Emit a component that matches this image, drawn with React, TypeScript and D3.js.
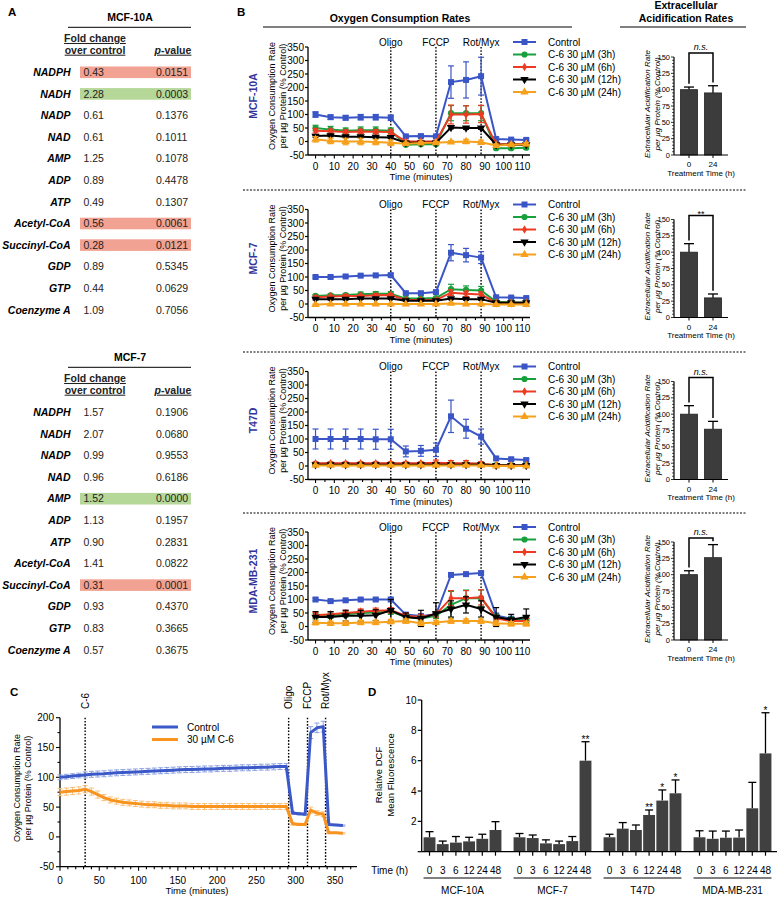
import React, { useLayoutEffect } from "react";
import * as d3 from "d3";

const FONT = "'Liberation Sans', Arial, Helvetica, sans-serif";

// ---------------- Panel A data ----------------
const metabolites = ["NADPH", "NADH", "NADP", "NAD", "AMP", "ADP", "ATP", "Acetyl-CoA", "Succinyl-CoA", "GDP", "GTP", "Coenzyme A"];
const foldMCF10A = ["0.43", "2.28", "0.61", "0.61", "1.25", "0.89", "0.49", "0.56", "0.28", "0.89", "0.44", "1.09"];
const pMCF10A = ["0.0151", "0.0003", "0.1376", "0.1011", "0.1078", "0.4478", "0.1307", "0.0061", "0.0121", "0.5345", "0.0629", "0.7056"];
const highlightMCF10A = ["down", "up", "", "", "", "", "", "down", "down", "", "", ""];
const foldMCF7 = ["1.57", "2.07", "0.99", "0.96", "1.52", "1.13", "0.90", "1.41", "0.31", "0.93", "0.83", "0.57"];
const pMCF7 = ["0.1906", "0.0680", "0.9553", "0.6186", "0.0000", "0.1957", "0.2831", "0.0822", "0.0001", "0.4370", "0.3665", "0.3675"];
const highlightMCF7 = ["", "", "", "", "up", "", "", "", "down", "", "", ""];

// ---------------- Panel B data ----------------
const cellLines = ["MCF-10A", "MCF-7", "T47D", "MDA-MB-231"];
const treatmentNames = ["Control", "C-6 30 µM (3h)", "C-6 30 µM (6h)", "C-6 30 µM (12h)", "C-6 30 µM (24h)"];
const ocrTimes = [0, 8, 16, 24, 32, 40, 48, 56, 64, 72, 80, 88, 96, 104, 112];
const drugNamesB = ["Oligo", "FCCP", "Rot/Myx"];
const drugTimesB = [40, 64, 88];
const ocrYTicks = [-50, 0, 50, 100, 150, 200, 250, 300, 350];
const ocrXTicks = [0, 10, 20, 30, 40, 50, 60, 70, 80, 90, 100, 110];

const ocrMCF10A = [
  [100, 90, 88, 90, 90, 88, 19, 20, 19, 220, 228, 242, 9, 7, 6],
  [50, 44, 40, 42, 42, 40, -12, -10, -10, 105, 105, 105, -25, -25, -23],
  [40, 38, 35, 37, 36, 35, 0, 0, 0, 100, 100, 102, -10, -10, -8],
  [20, 22, 18, 18, 16, 15, -5, -5, -5, 52, 50, 50, -12, -12, -12],
  [8, 2, 0, 0, -2, -5, -8, -6, -5, -2, 0, -3, -15, -12, -10],
];
const ocrErrMCF10A = [
  [10, 8, 8, 10, 10, 10, 6, 5, 5, 60, 67, 70, 4, 4, 4],
  [10, 12, 10, 12, 12, 10, 5, 5, 5, 28, 28, 28, 5, 5, 5],
  [8, 8, 8, 8, 8, 8, 4, 4, 4, 35, 32, 32, 4, 4, 4],
  [4, 4, 4, 4, 4, 4, 3, 3, 3, 5, 5, 5, 3, 3, 3],
  [10, 10, 12, 12, 10, 10, 5, 5, 5, 5, 8, 8, 6, 6, 6],
];
const ocrMCF7 = [
  [100, 100, 102, 105, 106, 107, 40, 40, 44, 190, 181, 172, 25, 24, 22],
  [30, 32, 33, 36, 38, 38, 20, 20, 22, 55, 52, 50, 8, 6, 6],
  [25, 28, 30, 30, 32, 33, 15, 15, 15, 42, 38, 35, 5, 5, 5],
  [18, 18, 18, 20, 20, 20, 12, 12, 12, 20, 18, 18, 5, 5, 5],
  [-2, 0, 0, 0, 0, 0, 0, 0, 0, 2, 0, 0, -2, -2, -2],
];
const ocrErrMCF7 = [
  [4, 4, 4, 4, 4, 5, 4, 4, 4, 30, 25, 22, 3, 3, 3],
  [5, 5, 6, 8, 8, 8, 4, 4, 4, 18, 15, 15, 3, 3, 3],
  [5, 5, 5, 6, 6, 6, 3, 3, 3, 10, 10, 10, 2, 2, 2],
  [3, 3, 3, 3, 3, 3, 2, 2, 2, 4, 4, 4, 2, 2, 2],
  [2, 2, 2, 2, 2, 2, 2, 2, 2, 2, 2, 2, 2, 2, 2],
];
const ocrT47D = [
  [100, 100, 100, 100, 99, 99, 54, 56, 60, 184, 138, 109, 28, 25, 22],
  [8, 8, 8, 8, 8, 8, 8, 8, 8, 8, 8, 8, 3, 3, 3],
  [10, 10, 10, 10, 10, 10, 10, 10, 12, 10, 10, 8, 3, 3, 3],
  [5, 5, 5, 5, 5, 5, 5, 5, 5, 5, 5, 5, 2, 2, 2],
  [2, 2, 2, 2, 2, 2, 2, 2, 2, 2, 2, 2, 0, 0, 0],
];
const ocrErrT47D = [
  [37, 37, 37, 37, 37, 37, 20, 20, 25, 60, 35, 28, 5, 5, 5],
  [3, 3, 3, 3, 3, 3, 3, 3, 3, 3, 3, 3, 2, 2, 2],
  [5, 5, 5, 5, 5, 5, 5, 5, 10, 10, 10, 8, 3, 3, 3],
  [2, 2, 2, 2, 2, 2, 2, 2, 2, 2, 2, 2, 1, 1, 1],
  [3, 3, 3, 3, 3, 3, 3, 3, 3, 3, 3, 3, 2, 2, 2],
];
const ocrMDA = [
  [100, 94, 97, 100, 100, 100, 44, 39, 44, 191, 194, 198, 41, 29, 25],
  [38, 40, 45, 50, 52, 55, 35, 30, 40, 80, 105, 105, 35, 25, 22],
  [42, 45, 50, 55, 58, 60, 40, 35, 45, 105, 105, 108, 30, 20, 20],
  [35, 35, 40, 40, 42, 60, 35, 30, 48, 65, 80, 65, 35, 25, 35],
  [14, 12, 12, 15, 15, 18, 20, 12, 15, 20, 20, 20, 12, 10, 10],
];
const ocrErrMDA = [
  [5, 5, 5, 5, 5, 5, 5, 5, 5, 5, 5, 5, 5, 5, 5],
  [10, 10, 10, 10, 10, 10, 10, 10, 10, 50, 30, 30, 10, 10, 10],
  [10, 10, 10, 10, 10, 10, 10, 10, 10, 28, 28, 28, 10, 10, 10],
  [20, 20, 20, 20, 20, 40, 15, 30, 40, 30, 30, 30, 35, 20, 30],
  [8, 8, 8, 8, 8, 8, 8, 8, 8, 8, 8, 8, 8, 8, 8],
];
const ocrByCell = [ocrMCF10A, ocrMCF7, ocrT47D, ocrMDA];
const ocrErrByCell = [ocrErrMCF10A, ocrErrMCF7, ocrErrT47D, ocrErrMDA];

const ecarTimes = ["0", "24"];
const ecarYTicks = [0, 25, 50, 75, 100, 125, 150];
const ecarMean = [[100, 95], [100, 30], [100, 77], [100, 126]];
const ecarErr = [[4, 11], [13, 6], [13, 12], [6, 20]];
const ecarSig = ["n.s.", "**", "n.s.", "n.s."];

// ---------------- Panel C data ----------------
const timeC = [0, 8, 16, 24, 32, 40, 48, 56, 64, 72, 80, 88, 96, 104, 112, 120, 128, 136, 144, 152, 160, 168, 176, 184, 192, 200, 208, 216, 224, 232, 240, 248, 256, 264, 272, 280, 288, 296, 304, 312, 319, 327, 335, 342, 351, 360];
const controlC = [100, 101, 102, 103, 104, 105, 105.5, 106, 107, 107.5, 108, 108.5, 109, 109.5, 110, 110.5, 111, 111.5, 112, 112.5, 113, 113, 113.5, 114, 114, 114.5, 115, 115, 115.5, 116, 116, 116.5, 117, 117, 117.5, 118, 118, 40, 39, 38, 175, 183, 185, 21, 20, 19];
const controlErrC = [4, 4, 4, 4, 5, 5, 5, 5, 5, 5, 5, 5, 5, 5, 5, 5, 5, 5, 5, 5, 5, 5, 5, 5, 5, 5, 5, 5, 5, 5, 5, 5, 5, 5, 5, 5, 5, 2, 2, 2, 10, 8, 9, 2, 1, 1];
const c6C = [75, 76, 77, 78, 80, 76, 71, 66, 62, 60, 58, 57, 56, 55, 54, 54, 53, 53, 52, 52, 52, 51, 51, 51, 51, 51, 51, 51, 51, 51, 51, 51, 51, 51, 51, 51, 51, 22, 21, 21, 45, 40, 38, 7, 7, 6];
const c6ErrC = [6, 6, 6, 6, 6, 6, 6, 5, 5, 5, 5, 5, 5, 5, 5, 5, 5, 5, 5, 5, 5, 5, 5, 5, 5, 5, 5, 5, 5, 5, 5, 5, 5, 5, 5, 5, 5, 2, 2, 2, 5, 4, 4, 1, 1, 1];
const seriesNamesC = ["Control", "30 µM C-6"];
const drugNamesC = ["C-6", "Oligo", "FCCP", "Rot/Myx"];
const drugTimesC = [32, 291, 315, 338];
const yTicksC = [-50, 0, 50, 100, 150, 200];
const xTicksC = [0, 50, 100, 150, 200, 250, 300, 350];

// ---------------- Panel D data ----------------
const dcfGroups = ["MCF-10A", "MCF-7", "T47D", "MDA-MB-231"];
const dcfTimes = ["0", "3", "6", "12", "24", "48"];
const dcfMean = [
  [0.95, 0.5, 0.6, 0.68, 0.85, 1.43],
  [0.95, 0.9, 0.55, 0.5, 0.7, 6.0],
  [0.95, 1.52, 1.43, 2.42, 3.37, 3.85],
  [0.95, 0.85, 0.92, 0.93, 2.86, 6.48],
];
const dcfErr = [
  [0.37, 0.2, 0.4, 0.27, 0.3, 0.55],
  [0.25, 0.2, 0.23, 0.2, 0.3, 1.25],
  [0.2, 0.4, 0.33, 0.33, 0.7, 0.88],
  [0.43, 0.51, 0.44, 0.5, 1.71, 2.68],
];
const dcfSig = [
  ["", "", "", "", "", ""],
  ["", "", "", "", "", "**"],
  ["", "", "", "**", "*", "*"],
  ["", "", "", "", "", "*"],
];
const dcfYTicks = [2, 4, 6, 8, 10];

// ---------------- styles ----------------
const treatmentColors = ["#3a55c6", "#17a03c", "#ee3a23", "#000000", "#f6a01b"];
const cellLabelColor = "#34349b";
const hlColors: Record<string, string> = { down: "#f2a292", up: "#b5d798" };

function marker(i: number) {
  const types = [d3.symbolSquare, d3.symbolCircle, d3.symbolDiamond, d3.symbolTriangle, d3.symbolTriangle];
  const sizes = [36, 30, 22, 30, 30];
  return d3.symbol().type(types[i]).size(sizes[i])() as string;
}

function PanelA() {
  const tables = [
    { titleY: 17, title: "MCF-10A", folds: foldMCF10A, ps: pMCF10A, hl: highlightMCF10A },
    { titleY: 357, title: "MCF-7", folds: foldMCF7, ps: pMCF7, hl: highlightMCF7 },
  ];
  return (
    <g>
      <text x={8} y={16} fontWeight="bold" fontSize={11.5}>A</text>
      {tables.map((t) => {
        const rowY = d3.scaleLinear().domain([0, metabolites.length - 1]).range([t.titleY + 55.3, t.titleY + 55.3 + 11 * 21.6]);
        return (
          <g key={t.title}>
            <text x={130} y={t.titleY} dy="0.35em" textAnchor="middle" fontWeight="bold" fontSize={10.5}>{t.title}</text>
            <line x1={68} x2={191} y1={t.titleY + 10.3} y2={t.titleY + 10.3} stroke="#000" strokeWidth={1} />
            <text x={95} y={t.titleY + 21.3} dy="0.35em" textAnchor="middle" fontWeight="bold" fontSize={10.5} fill="#222" style={{ textDecoration: "underline" }}>Fold change</text>
            <text x={95} y={t.titleY + 33} dy="0.35em" textAnchor="middle" fontWeight="bold" fontSize={10.5} fill="#222" style={{ textDecoration: "underline" }}>over control</text>
            <text x={173} y={t.titleY + 33} dy="0.35em" textAnchor="middle" fontWeight="bold" fontSize={10.5} fill="#222" style={{ textDecoration: "underline" }}>
              <tspan fontStyle="italic">p</tspan>-value
            </text>
            {metabolites.map((m, i) => (
              <g key={m}>
                {t.hl[i] && <rect x={80} y={rowY(i) - 5.8} width={111} height={11.6} fill={hlColors[t.hl[i]]} />}
                <text x={70.5} y={rowY(i)} dy="0.35em" textAnchor="end" fontWeight="bold" fontStyle="italic" fontSize={10.5}>{m}</text>
                <text x={83.5} y={rowY(i)} dy="0.35em" fontSize={10.5} fill="#222">{t.folds[i]}</text>
                <text x={156} y={rowY(i)} dy="0.35em" fontSize={10.5} fill="#222">{t.ps[i]}</text>
              </g>
            ))}
          </g>
        );
      })}
    </g>
  );
}

function OcrRow({ top, idx }: { top: number; idx: number }) {
  const x = d3.scaleLinear().domain([-4, 114]).range([308, 530]);
  const y = d3.scaleLinear().domain([-50, 350]).range([top + 108, top]);
  const bottom = y(-50);
  const vals = ocrByCell[idx];
  const errs = ocrErrByCell[idx];
  const line = d3.line<number>().x((_, i) => x(ocrTimes[i])).y((d) => y(d));
  const minor = d3.range(0, 115, 5);
  return (
    <g>
      <text transform={`translate(253,${top + 49}) rotate(-90)`} dy="0.35em" textAnchor="middle" fontWeight="bold" fontSize={10.5} fill={cellLabelColor}>{cellLines[idx]}</text>
      <text transform={`translate(272,${top + 49}) rotate(-90)`} dy="0.35em" textAnchor="middle" fontSize={9}>Oxygen Consumption Rate</text>
      <text transform={`translate(283,${top + 49}) rotate(-90)`} dy="0.35em" textAnchor="middle" fontSize={9}>per µg Protein (% Control)</text>
      {/* axes */}
      <line x1={x.range()[0]} x2={x.range()[0]} y1={top} y2={bottom} stroke="#000" strokeWidth={1.3} />
      <line x1={x.range()[0]} x2={x.range()[1]} y1={bottom} y2={bottom} stroke="#000" strokeWidth={1.3} />
      {ocrYTicks.map((t) => (
        <g key={t}>
          <line x1={305} x2={308} y1={y(t)} y2={y(t)} stroke="#000" strokeWidth={1.2} />
          <text x={304} y={y(t)} dy="0.35em" textAnchor="end" fontSize={10}>{t}</text>
        </g>
      ))}
      {minor.map((t) => (
        <line key={t} x1={x(t)} x2={x(t)} y1={bottom} y2={bottom + (t % 10 === 0 ? 3.5 : 2.5)} stroke="#000" strokeWidth={1.1} />
      ))}
      {ocrXTicks.map((t) => (
        <text key={t} x={x(t)} y={bottom + 11} dy="0.35em" textAnchor="middle" fontSize={10}>{t}</text>
      ))}
      <text x={421} y={bottom + 22} dy="0.35em" textAnchor="middle" fontSize={9.5}>Time (minutes)</text>
      {/* drug lines */}
      {drugTimesB.map((t, i) => (
        <g key={t}>
          <line x1={x(t)} x2={x(t)} y1={top} y2={bottom} stroke="#000" strokeWidth={1.4} strokeDasharray="1.6,1.6" />
          <text x={x(t)} y={top - 5} dy="0.35em" textAnchor="middle" fontSize={10}>{drugNamesB[i]}</text>
        </g>
      ))}
      {/* series */}
      {vals.map((s, si) => (
        <g key={si}>
          {s.map((v, i) => {
            const cx = x(ocrTimes[i]);
            const e = errs[si][i];
            return (
              <g key={i} stroke={treatmentColors[si]} strokeWidth={1.2}>
                <line x1={cx} x2={cx} y1={y(v - e)} y2={y(v + e)} />
                <line x1={cx - 3} x2={cx + 3} y1={y(v - e)} y2={y(v - e)} />
                <line x1={cx - 3} x2={cx + 3} y1={y(v + e)} y2={y(v + e)} />
              </g>
            );
          })}
          <path d={line(s) as string} fill="none" stroke={treatmentColors[si]} strokeWidth={2} />
          {s.map((v, i) => (
            <path key={i} d={marker(si)} transform={`translate(${x(ocrTimes[i])},${y(v)})${si === 3 ? " rotate(180)" : ""}`} fill={treatmentColors[si]} />
          ))}
        </g>
      ))}
      {/* legend */}
      {treatmentNames.map((n, i) => {
        const ly = top - 5 + i * 12.5;
        return (
          <g key={n}>
            <line x1={513} x2={536} y1={ly} y2={ly} stroke={treatmentColors[i]} strokeWidth={2} />
            <path d={marker(i)} transform={`translate(524.5,${ly})${i === 3 ? " rotate(180)" : ""}`} fill={treatmentColors[i]} />
            <text x={548} y={ly} dy="0.35em" fontSize={10}>{n}</text>
          </g>
        );
      })}
    </g>
  );
}

function EcarRow({ top, idx }: { top: number; idx: number }) {
  const y = d3.scaleLinear().domain([0, 150]).range([top + 108, top + 10]);
  const x = d3.scaleBand().domain(ecarTimes).range([674, 728]).paddingInner(0.29).paddingOuter(0.27);
  const bottom = y(0);
  const means = ecarMean[idx];
  const errs = ecarErr[idx];
  const c0 = (x(ecarTimes[0]) as number) + x.bandwidth() / 2;
  const c1 = (x(ecarTimes[1]) as number) + x.bandwidth() / 2;
  const brTop = y(156);
  const sig = ecarSig[idx];
  return (
    <g>
      <text transform={`translate(647,${top + 57}) rotate(-90)`} dy="0.35em" textAnchor="middle" fontSize={8} fontStyle="italic">Extracellular Acidification Rate</text>
      <text transform={`translate(657,${top + 57}) rotate(-90)`} dy="0.35em" textAnchor="middle" fontSize={8} fontStyle="italic">per µg Protein (% Control)</text>
      {ecarTimes.map((t, i) => {
        const bx = x(t) as number;
        const cx = bx + x.bandwidth() / 2;
        const top2 = y(means[i] + errs[i]);
        return (
          <g key={t}>
            <line x1={cx} x2={cx} y1={y(means[i])} y2={top2} stroke="#000" strokeWidth={1.3} />
            <line x1={cx - 5} x2={cx + 5} y1={top2} y2={top2} stroke="#000" strokeWidth={1.3} />
            <rect x={bx} y={y(means[i])} width={x.bandwidth()} height={bottom - y(means[i])} fill="#3c3c3c" stroke="#222" strokeWidth={0.8} />
            <line x1={cx} x2={cx} y1={bottom} y2={bottom + 3} stroke="#000" strokeWidth={1} />
            <text x={cx} y={bottom + 9.5} dy="0.35em" textAnchor="middle" fontSize={8}>{t}</text>
          </g>
        );
      })}
      <line x1={674} x2={674} y1={y(150)} y2={bottom} stroke="#000" strokeWidth={1.2} />
      <line x1={674} x2={728} y1={bottom} y2={bottom} stroke="#000" strokeWidth={1.2} />
      {d3.range(0, 151, 5).map((t) => (
        <line key={t} x1={674 - (t % 25 === 0 ? 3 : 1.8)} x2={674} y1={y(t)} y2={y(t)} stroke="#000" strokeWidth={0.8} />
      ))}
      {ecarYTicks.map((t) => (
        <text key={t} x={670} y={y(t)} dy="0.35em" textAnchor="end" fontSize={7.5}>{t}</text>
      ))}
      <text x={701} y={bottom + 18} dy="0.35em" textAnchor="middle" fontSize={8}>Treatment Time (h)</text>
      <path d={`M${c0},${y(means[0] + errs[0] + 5)}V${brTop}H${c1}V${y(means[1] + errs[1] + 5)}`} fill="none" stroke="#000" strokeWidth={1.5} />
      <text x={(c0 + c1) / 2} y={sig === "**" ? brTop + 1 : brTop - 3} textAnchor="middle" fontSize={9} fontStyle={sig === "**" ? "normal" : "italic"}>{sig}</text>
    </g>
  );
}

function PanelB() {
  const tops = [47, 209.5, 371.5, 532];
  const seps = [190, 352, 513];
  return (
    <g>
      <text x={237} y={16} fontWeight="bold" fontSize={11.5}>B</text>
      <text x={400} y={18} dy="0.35em" textAnchor="middle" fontWeight="bold" fontSize={10.5}>Oxygen Consumption Rates</text>
      <line x1={263} x2={572} y1={27} y2={27} stroke="#000" strokeWidth={1} />
      <text x={686} y={5.5} dy="0.35em" textAnchor="middle" fontWeight="bold" fontSize={10.5}>Extracellular</text>
      <text x={686} y={18} dy="0.35em" textAnchor="middle" fontWeight="bold" fontSize={10.5}>Acidification Rates</text>
      <line x1={620} x2={746} y1={27} y2={27} stroke="#000" strokeWidth={1} />
      {seps.map((s) => (
        <line key={s} x1={243} x2={746} y1={s} y2={s} stroke="#000" strokeWidth={1.2} strokeDasharray="2,1.5" />
      ))}
      {tops.map((t, i) => (
        <g key={i}>
          <OcrRow top={t} idx={i} />
          <EcarRow top={t} idx={i} />
        </g>
      ))}
    </g>
  );
}

function PanelC() {
  const x = d3.scaleLinear().domain([0, 378]).range([60, 357]);
  const y = d3.scaleLinear().domain([-50, 200]).range([866.7, 717.7]);
  const bottom = y(-50);
  const line = d3.line<number>().x((_, i) => x(timeC[i])).y((d) => y(d));
  const series = [
    { v: controlC, e: controlErrC, c: "#3b58c8", lc: "#8ea2e2" },
    { v: c6C, e: c6ErrC, c: "#f7931e", lc: "#f9c07a" },
  ];
  return (
    <g>
      <text x={10} y={696} fontWeight="bold" fontSize={11.5}>C</text>
      <text transform={`translate(17,788) rotate(-90)`} dy="0.35em" textAnchor="middle" fontSize={9}>Oxygen Consumption Rate</text>
      <text transform={`translate(28,788) rotate(-90)`} dy="0.35em" textAnchor="middle" fontSize={9}>per µg Protein (% Control)</text>
      <line x1={60} x2={60} y1={y(200)} y2={bottom} stroke="#000" strokeWidth={1.3} />
      <line x1={60} x2={357} y1={bottom} y2={bottom} stroke="#000" strokeWidth={1.3} />
      {d3.range(-50, 201, 25).map((t) => (
        <line key={t} x1={60 - (t % 50 === 0 ? 4 : 2.5)} x2={60} y1={y(t)} y2={y(t)} stroke="#000" strokeWidth={1.1} />
      ))}
      {yTicksC.map((t) => (
        <text key={t} x={54} y={y(t)} dy="0.35em" textAnchor="end" fontSize={10}>{t}</text>
      ))}
      {d3.range(0, 371, 10).map((t) => (
        <line key={t} x1={x(t)} x2={x(t)} y1={bottom} y2={bottom + (t % 50 === 0 ? 4 : 2.5)} stroke="#000" strokeWidth={1.1} />
      ))}
      {xTicksC.map((t) => (
        <text key={t} x={x(t)} y={880} dy="0.35em" textAnchor="middle" fontSize={10}>{t}</text>
      ))}
      <text x={197} y={891} dy="0.35em" textAnchor="middle" fontSize={9.5}>Time (minutes)</text>
      {drugTimesC.map((t, i) => (
        <g key={t}>
          <line x1={x(t)} x2={x(t)} y1={y(200)} y2={bottom} stroke="#000" strokeWidth={1.4} strokeDasharray="1.6,1.6" />
          <text transform={`translate(${x(t)},709) rotate(-90)`} dy="0.35em" fontSize={10}>{drugNamesC[i]}</text>
        </g>
      ))}
      {series.map((s, si) => (
        <g key={si}>
          {s.v.map((v, i) => {
            const cx = x(timeC[i]);
            return (
              <g key={i} stroke={s.lc} strokeWidth={1}>
                <line x1={cx} x2={cx} y1={y(v - s.e[i])} y2={y(v + s.e[i])} />
                <line x1={cx - 2.5} x2={cx + 2.5} y1={y(v - s.e[i])} y2={y(v - s.e[i])} />
                <line x1={cx - 2.5} x2={cx + 2.5} y1={y(v + s.e[i])} y2={y(v + s.e[i])} />
              </g>
            );
          })}
        </g>
      ))}
      {series.map((s, si) => (
        <path key={si} d={line(s.v) as string} fill="none" stroke={s.c} strokeWidth={3} strokeLinejoin="round" />
      ))}
      {seriesNamesC.map((n, i) => (
        <g key={n}>
          <line x1={152} x2={178} y1={727 + i * 12.5} y2={727 + i * 12.5} stroke={series[i].c} strokeWidth={3} />
          <text x={187} y={727 + i * 12.5} dy="0.35em" fontSize={10}>{n}</text>
        </g>
      ))}
    </g>
  );
}

function PanelD() {
  const y = d3.scaleLinear().domain([0, 10]).range([851.7, 700]);
  const gx = d3.scaleBand().domain(dcfGroups).range([417.5, 777.5]);
  const bx = d3.scaleBand().domain(dcfTimes).range([0, gx.bandwidth()]).paddingInner(0.1).paddingOuter(0.46);
  const bottom = y(0);
  return (
    <g>
      <text x={368} y={696} fontWeight="bold" fontSize={11.5}>D</text>
      <text transform={`translate(379,775) rotate(-90)`} dy="0.35em" textAnchor="middle" fontSize={9.5}>Relative DCF</text>
      <text transform={`translate(391,775) rotate(-90)`} dy="0.35em" textAnchor="middle" fontSize={9.5}>Mean Fluorescence</text>
      {dcfGroups.map((g, gi) => {
        const g0 = gx(g) as number;
        const first = g0 + (bx(dcfTimes[0]) as number);
        const last = g0 + (bx(dcfTimes[dcfTimes.length - 1]) as number) + bx.bandwidth();
        return (
          <g key={g}>
            {dcfTimes.map((t, ti) => {
              const left = g0 + (bx(t) as number);
              const cx = left + bx.bandwidth() / 2;
              const m = dcfMean[gi][ti];
              const et = y(m + dcfErr[gi][ti]);
              return (
                <g key={t}>
                  <line x1={cx} x2={cx} y1={y(m)} y2={et} stroke="#000" strokeWidth={1.3} />
                  <line x1={cx - 4} x2={cx + 4} y1={et} y2={et} stroke="#000" strokeWidth={1.3} />
                  <rect x={left} y={y(m)} width={bx.bandwidth()} height={bottom - y(m)} fill="#404040" />
                  <line x1={cx} x2={cx} y1={bottom} y2={bottom + 4} stroke="#000" strokeWidth={1.2} />
                  <text x={cx} y={870} dy="0.35em" textAnchor="middle" fontSize={10}>{t}</text>
                  {dcfSig[gi][ti] && (
                    <text x={cx} y={et + 1.5} textAnchor="middle" fontSize={10}>{dcfSig[gi][ti]}</text>
                  )}
                </g>
              );
            })}
            <line x1={first} x2={last} y1={878} y2={878} stroke="#000" strokeWidth={1} />
            <text x={(first + last) / 2} y={890} dy="0.35em" textAnchor="middle" fontSize={10}>{g}</text>
          </g>
        );
      })}
      <line x1={421.7} x2={421.7} y1={y(10)} y2={bottom} stroke="#000" strokeWidth={1.3} />
      <line x1={421.7} x2={777} y1={bottom} y2={bottom} stroke="#000" strokeWidth={1.3} />
      {[0, ...dcfYTicks].map((t) => (
        <line key={t} x1={417.7} x2={421.7} y1={y(t)} y2={y(t)} stroke="#000" strokeWidth={1.2} />
      ))}
      {dcfYTicks.map((t) => (
        <text key={t} x={416.5} y={y(t)} dy="0.35em" textAnchor="end" fontSize={10}>{t}</text>
      ))}
      <text x={408} y={870} dy="0.35em" textAnchor="end" fontSize={10}>Time (h)</text>
    </g>
  );
}

export default function App() {
  useLayoutEffect(() => {
    document.body.style.margin = "0";
  }, []);
  return (
    <svg width={778} height={899} viewBox="0 0 778 899" style={{ display: "block", background: "#fff" }} fontFamily={FONT}>
      <rect width={778} height={899} fill="#fff" />
      <PanelA />
      <PanelB />
      <PanelC />
      <PanelD />
    </svg>
  );
}
